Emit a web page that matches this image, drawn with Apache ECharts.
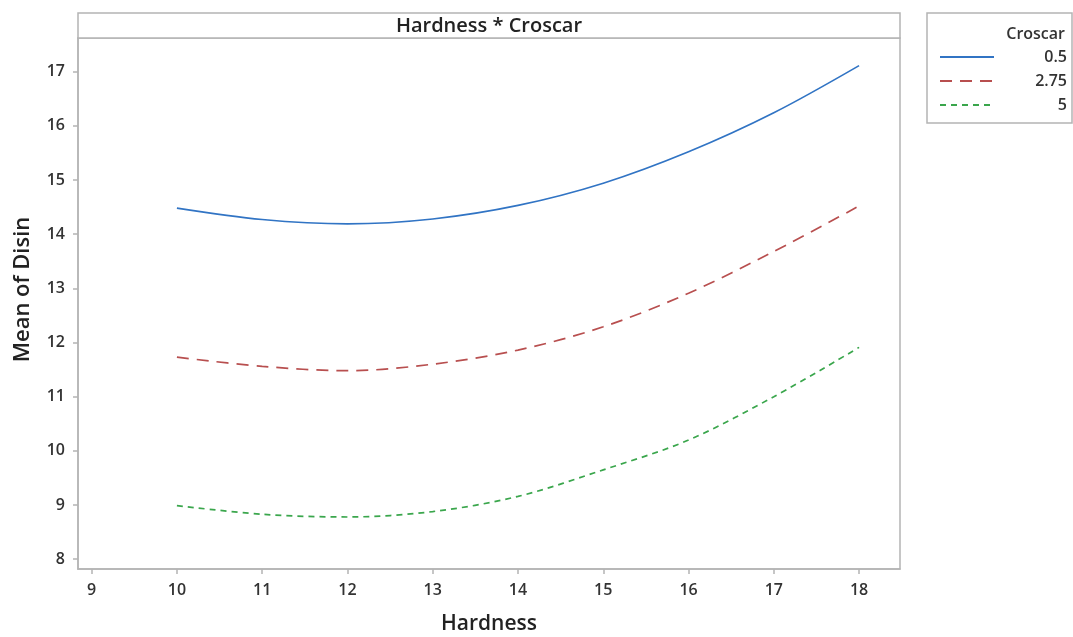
<!DOCTYPE html>
<html>
<head>
<meta charset="utf-8">
<script src="https://cdn.jsdelivr.net/npm/echarts@6/dist/echarts.min.js"></script>
<style>
html,body{margin:0;padding:0;background:#fff;}
#chart{width:1073px;height:637px;}
</style>
</head>
<body>
<div id="chart"></div>
<script>
const hardness = [10, 11, 12, 13, 14, 15, 16, 17, 18];
const croscar05 = [14.48, 14.27, 14.19, 14.28, 14.53, 14.94, 15.52, 16.24, 17.11];
const croscar275 = [11.73, 11.56, 11.48, 11.60, 11.86, 12.29, 12.91, 13.68, 14.52];
const croscar5 = [8.99, 8.83, 8.78, 8.88, 9.16, 9.65, 10.20, 11.00, 11.91];
const xTicks = [9, 10, 11, 12, 13, 14, 15, 16, 17, 18];
const yTicks = [8, 9, 10, 11, 12, 13, 14, 15, 16, 17];
const seriesNames = ['0.5', '2.75', '5'];
const panelTitle = 'Hardness * Croscar';
const legendTitle = 'Croscar';

const FONT = '"Open Sans", "Noto Sans", sans-serif';
const pair = (arr) => hardness.map((h, i) => [h, arr[i]]);

const chart = echarts.init(document.getElementById('chart'), null, {renderer: 'canvas'});
const axisGray = '#b4b4b4';
chart.setOption({
  backgroundColor: '#ffffff',
  animation: false,
  grid: {left: 78, right: 173, top: 38, bottom: 68, show: true, borderColor: axisGray, borderWidth: 1.5,
         containLabel: false, outerBoundsMode: 'none'},
  xAxis: {
    type: 'value', min: 8.84, max: 18.48,
    name: 'Hardness', nameLocation: 'middle', nameGap: 45,
    nameTextStyle: {fontFamily: FONT, fontSize: 21, color: '#222', fontWeight: 600},
    axisLine: {show: true, lineStyle: {color: axisGray, width: 1.5}},
    axisTick: {show: true, length: 5, customValues: xTicks, lineStyle: {color: axisGray, width: 1.5}},
    axisLabel: {customValues: xTicks, fontFamily: FONT, fontSize: 16, color: '#333', fontWeight: 600, margin: 13},
    splitLine: {show: false}
  },
  yAxis: {
    type: 'value', min: 7.82, max: 17.62,
    name: 'Mean of Disin', nameLocation: 'middle', nameGap: 44,
    nameTextStyle: {fontFamily: FONT, fontSize: 22, color: '#222', fontWeight: 600, padding: [0, 0, 0, 28]},
    axisLine: {show: true, lineStyle: {color: axisGray, width: 1.5}},
    axisTick: {show: true, length: 5, customValues: yTicks, lineStyle: {color: axisGray, width: 1.5}},
    axisLabel: {customValues: yTicks, fontFamily: FONT, fontSize: 16, color: '#333', fontWeight: 600, margin: 13},
    splitLine: {show: false}
  },
  legend: {
    orient: 'vertical', left: 934, top: 44, itemWidth: 54, itemHeight: 10, itemGap: 8,
    data: seriesNames,
    itemStyle: {opacity: 0},
    formatter: '{a|{name}}',
    textStyle: {fontFamily: FONT, fontSize: 16, color: '#333', fontWeight: 600,
      rich: {a: {fontFamily: FONT, fontSize: 16, color: '#333', fontWeight: 600, width: 68, align: 'right'}}}
  },
  graphic: [
    {type: 'rect', shape: {x: 78, y: 13, width: 822, height: 25}, style: {fill: '#fff', stroke: axisGray, lineWidth: 1.5}, z: 10},
    {type: 'text', x: 489, y: 26, style: {text: panelTitle, fontFamily: FONT, fontSize: 20, fontWeight: 600, fill: '#222', align: 'center', verticalAlign: 'middle'}, z: 11},
    {type: 'rect', shape: {x: 927, y: 13, width: 145, height: 110}, style: {fill: 'none', stroke: axisGray, lineWidth: 1.5}, z: 10},
    {type: 'text', x: 1065, y: 34, style: {text: legendTitle, fontFamily: FONT, fontSize: 16, fontWeight: 600, fill: '#333', align: 'right', verticalAlign: 'middle'}, z: 11}
  ],
  series: [
    {name: seriesNames[0], type: 'line', data: pair(croscar05), smooth: 0.33, showSymbol: false, symbol: 'none',
     lineStyle: {color: '#3174c4', width: 1.7, type: 'solid'}, itemStyle: {color: '#3174c4'}},
    {name: seriesNames[1], type: 'line', data: pair(croscar275), smooth: 0.33, showSymbol: false, symbol: 'none',
     lineStyle: {color: '#b84f4f', width: 1.7, type: [12, 8]}, itemStyle: {color: '#b84f4f'}},
    {name: seriesNames[2], type: 'line', data: pair(croscar5), smooth: 0.33, showSymbol: false, symbol: 'none',
     lineStyle: {color: '#3aa64c', width: 1.7, type: [6, 5]}, itemStyle: {color: '#3aa64c'}}
  ]
});
</script>
</body>
</html>
